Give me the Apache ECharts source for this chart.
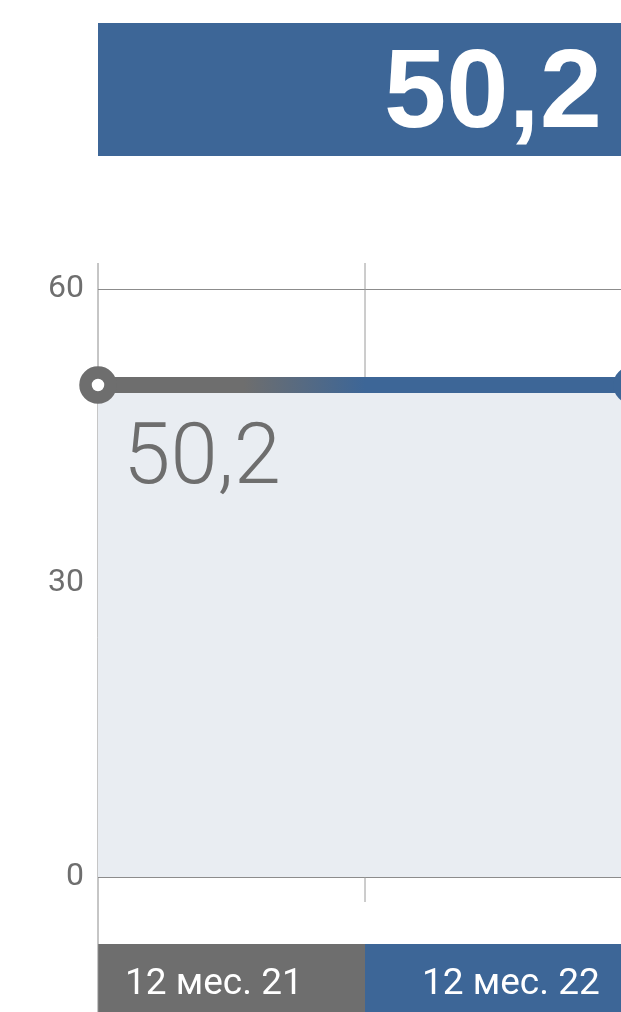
<!DOCTYPE html>
<html>
<head>
<meta charset="utf-8">
<style>
  html, body { margin: 0; padding: 0; background: #ffffff; }
  #chart { width: 621px; height: 1012px; }
</style>
<script src="https://cdn.jsdelivr.net/npm/echarts@6/dist/echarts.min.js"></script>
</head>
<body>
<div id="chart"></div>
<script>
// ---- data ----
const categories = ['12 мес. 21', '12 мес. 22'];
const values = [50.2, 50.2];
const yTicks = [0, 30, 60];

// ---- style constants ----
const GRAY = '#6e6e6e';
const BLUE = '#3d6697';
const AREA = '#e9edf2';
const GRID_LINE = '#8c8c8c';

const fmt = v => v.toFixed(1).replace('.', ',');

const chart = echarts.init(document.getElementById('chart'), null, { renderer: 'canvas' });

const option = {
  animation: false,
  backgroundColor: '#ffffff',
  grid: { left: 98, width: 534, top: 289, bottom: 135, containLabel: false, outerBoundsMode: 'none' },
  xAxis: [
    {
      type: 'category',
      data: categories,
      boundaryGap: false,
      axisLine: { show: false },
      axisTick: { show: false },
      axisLabel: { show: false },
      splitLine: { show: false }
    },
    {
      type: 'category',
      data: categories,
      boundaryGap: true,
      position: 'bottom',
      axisLine: { show: false },
      axisTick: { show: false },
      splitLine: { show: false },
      axisLabel: {
        margin: 74,
        interval: 0,
        hideOverlap: false,
        formatter: (v, i) => (i === 0 ? '{a|' + v + '}' : '{b|' + v + '}'),
        rich: {
          a: {
            backgroundColor: GRAY, color: '#ffffff', fontSize: 37,
            fontFamily: 'Roboto', width: 240, height: 54, lineHeight: 54,
            padding: [14, 0, 0, 27], align: 'left'
          },
          b: {
            backgroundColor: BLUE, color: '#ffffff', fontSize: 37,
            fontFamily: 'Roboto', width: 210, height: 54, lineHeight: 54,
            padding: [14, 0, 0, 57], align: 'left'
          }
        }
      }
    }
  ],
  yAxis: {
    type: 'value',
    min: yTicks[0],
    max: yTicks[yTicks.length - 1],
    interval: yTicks[1] - yTicks[0],
    axisLine: { show: false },
    axisTick: { show: false },
    axisLabel: { color: GRAY, fontSize: 32, fontFamily: 'Roboto', margin: 14, padding: [7, 0, 0, 0] },
    splitLine: { show: true, lineStyle: { color: GRID_LINE, width: 1 } }
  },
  series: [
    {
      type: 'line',
      xAxisIndex: 0,
      data: values.map((v, i) => ({
        value: v,
        itemStyle: { color: '#ffffff', borderColor: i === 0 ? GRAY : BLUE, borderWidth: 12.5 },
        label: {
          show: i === 0,
          formatter: p => fmt(p.value),
          position: [44, 53],
          align: 'left',
          verticalAlign: 'top',
          color: GRAY,
          fontSize: 85,
          fontWeight: 300,
          fontFamily: 'Roboto'
        }
      })),
      symbol: 'circle',
      symbolSize: 25,
      showAllSymbol: true,
      clip: false,
      lineStyle: {
        width: 16,
        color: new echarts.graphic.LinearGradient(0, 0, 1, 0, [
          { offset: 0, color: GRAY },
          { offset: 0.28, color: GRAY },
          { offset: 0.5, color: BLUE },
          { offset: 1, color: BLUE }
        ])
      },
      areaStyle: { color: AREA, opacity: 1 },
      z: 3
    }
  ]
};

chart.setOption(option);

// decorative lines and header box, positioned from the axes
const x0 = chart.convertToPixel({ xAxisIndex: 0 }, categories[0]);
const x1 = chart.convertToPixel({ xAxisIndex: 0 }, categories[1]);
const xm = (x0 + x1) / 2;
const yTop = chart.convertToPixel({ yAxisIndex: 0 }, yTicks[yTicks.length - 1]);
const yZero = chart.convertToPixel({ yAxisIndex: 0 }, yTicks[0]);

chart.setOption({
  graphic: [
    {
      type: 'rect', z: 10,
      shape: { x: 98, y: 23, width: 523, height: 133 },
      style: { fill: BLUE }
    },
    {
      type: 'text', z: 11,
      x: 602, y: 96,
      style: {
        text: fmt(values[values.length - 1]),
        fill: '#ffffff',
        font: 'bold 112px "Liberation Sans", Arial, sans-serif',
        align: 'right',
        verticalAlign: 'middle'
      }
    },
    {
      type: 'line', z: 1,
      shape: { x1: x0, y1: yTop - 26, x2: x0, y2: 1012 },
      style: { stroke: GRID_LINE, lineWidth: 1 }
    },
    {
      type: 'line', z: 1,
      shape: { x1: xm, y1: yTop - 26, x2: xm, y2: yZero + 25 },
      style: { stroke: '#9a9a9a', lineWidth: 1 }
    }
  ]
});
</script>
</body>
</html>
